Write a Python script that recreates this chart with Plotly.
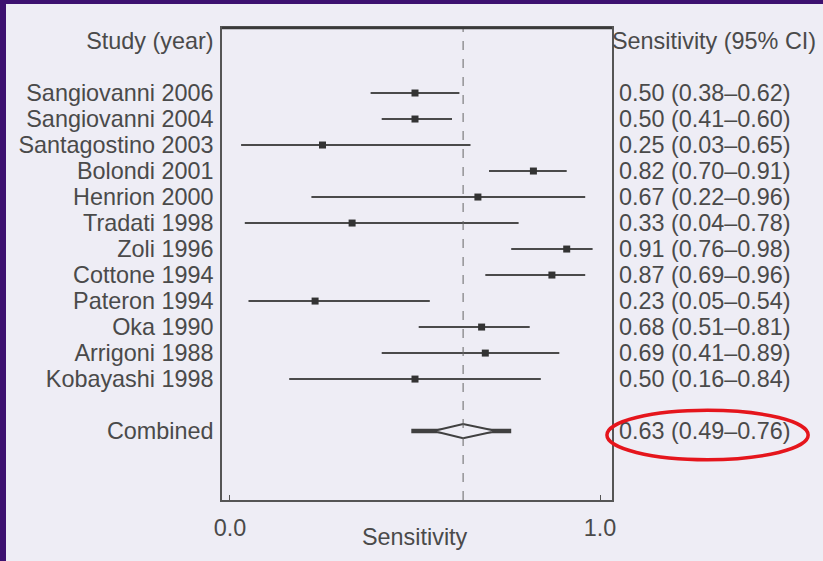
import plotly.graph_objects as go

# ---- data ----
studies = ["Sangiovanni 2006", "Sangiovanni 2004", "Santagostino 2003", "Bolondi 2001",
           "Henrion 2000", "Tradati 1998", "Zoli 1996", "Cottone 1994", "Pateron 1994",
           "Oka 1990", "Arrigoni 1988", "Kobayashi 1998"]
sens = [0.50, 0.50, 0.25, 0.82, 0.67, 0.33, 0.91, 0.87, 0.23, 0.68, 0.69, 0.50]
lo = [0.38, 0.41, 0.03, 0.70, 0.22, 0.04, 0.76, 0.69, 0.05, 0.51, 0.41, 0.16]
hi = [0.62, 0.60, 0.65, 0.91, 0.96, 0.78, 0.98, 0.96, 0.54, 0.81, 0.89, 0.84]
combined_label = "Combined"
combined_est = 0.63
combined_lo = 0.49
combined_hi = 0.76
combined_diamond = [0.55, 0.72]   # hollow diamond extent as drawn
x_ticks = [0.0, 1.0]
x_ticktext = ["0.0", "1.0"]

FONT = "Liberation Sans, Arial, Helvetica, sans-serif"
TXT = "#4a4a4a"
FS = 23.4
INK = "#333333"

rows = list(range(len(studies)))
comb_row = len(studies) + 1

fmt = lambda e, l, h: f"{e:.2f} ({l:.2f}\u2013{h:.2f})"
right_text = [fmt(e, l, h) for e, l, h in zip(sens, lo, hi)]
comb_text = fmt(combined_est, combined_lo, combined_hi)

fig = go.Figure()

# study CIs and point estimates
fig.add_trace(go.Scatter(
    x=sens, y=rows, mode="markers",
    marker=dict(symbol="square", size=7, color=INK),
    error_x=dict(type="data", symmetric=False,
                 array=[h - e for h, e in zip(hi, sens)],
                 arrayminus=[e - l for e, l in zip(sens, lo)],
                 thickness=2, width=0, color="#4a4a4a"),
    showlegend=False, hoverinfo="skip"))

# combined CI thick line
fig.add_trace(go.Scatter(
    x=[combined_lo, combined_hi], y=[comb_row, comb_row], mode="lines",
    line=dict(color="#404040", width=4.5), showlegend=False, hoverinfo="skip"))

# combined hollow diamond
dh = 0.27
fig.add_trace(go.Scatter(
    x=[combined_diamond[0], combined_est, combined_diamond[1], combined_est, combined_diamond[0]],
    y=[comb_row, comb_row - dh, comb_row, comb_row + dh, comb_row],
    mode="lines", fill="toself", fillcolor="#eeedf5",
    line=dict(color="#404040", width=2), showlegend=False, hoverinfo="skip"))

# invisible trace to activate right axis
fig.add_trace(go.Scatter(
    x=sens, y=rows, yaxis="y2", mode="markers", marker=dict(opacity=0),
    showlegend=False, hoverinfo="skip"))

yrange = [15.65, -2.5]

left_vals = [-2] + rows + [comb_row]
left_text = ["Study (year)"] + studies + [combined_label]
right_vals = rows + [comb_row]
right_txt = right_text + [comb_text]

fig.update_layout(
    width=823, height=561,
    margin=dict(l=222, r=211, t=28, b=61),
    paper_bgcolor="#eeedf5", plot_bgcolor="#eeedf5",
    font=dict(family=FONT, size=FS, color=TXT),
    xaxis=dict(range=[-0.0216, 1.0324], tickvals=x_ticks, ticktext=x_ticktext,
               ticks="inside", ticklen=5, tickcolor="#555555",
               showgrid=False, zeroline=False, showline=True, mirror=True,
               linecolor="#555555", linewidth=1.5, ticklabelstandoff=6,
               tickfont=dict(size=FS, color=TXT)),
    yaxis=dict(range=yrange, tickvals=left_vals, ticktext=left_text,
               ticks="", showgrid=False, zeroline=False, showline=True, mirror=True,
               linecolor="#555555", linewidth=1.5, ticklabelstandoff=2,
               tickfont=dict(size=FS, color=TXT)),
    yaxis2=dict(range=yrange, overlaying="y", side="right", tickvals=right_vals,
                ticktext=right_txt, ticks="", showgrid=False, zeroline=False,
                showline=False, ticklabelstandoff=6,
                tickfont=dict(size=FS, color=TXT)),
)

# dashed reference line at combined estimate
fig.add_shape(type="line", x0=combined_est, x1=combined_est, xref="x",
              y0=0, y1=1, yref="paper", line=dict(color="#666666", width=1, dash="dash"))

# heavier top frame
fig.add_shape(type="line", x0=0, x1=1, xref="paper", y0=1, y1=1, yref="paper",
              line=dict(color="#3a3a3a", width=2.5))

# right header
fig.add_annotation(text="Sensitivity (95% CI)", xref="paper", yref="y",
                   x=0.995, y=-2, xanchor="left", yanchor="middle", showarrow=False,
                   font=dict(size=FS, color=TXT))

# x axis title
fig.add_annotation(text="Sensitivity", xref="paper", yref="paper",
                   x=0.495, y=-0.078, xanchor="center", yanchor="middle", showarrow=False,
                   font=dict(size=FS, color=TXT))

# red ellipse highlight around combined result
fig.add_shape(type="circle", xref="paper", yref="y",
              x0=0.987, x1=1.503, y0=12.2, y1=14.1,
              line=dict(color="#e5151c", width=3.5))

# purple slide border
PURPLE = "#3d1170"
fig.add_shape(type="rect", xref="paper", yref="paper",
              x0=-0.6, x1=(6 - 222) / 390, y0=-0.2, y1=1.1,
              fillcolor=PURPLE, line=dict(width=0))
fig.add_shape(type="rect", xref="paper", yref="paper",
              x0=-0.6, x1=1.6, y0=(500 - 4) / 472, y1=1.1,
              fillcolor=PURPLE, line=dict(width=0))

fig.write_html("out.html", config={"displayModeBar": False},
               post_script="document.body.style.margin='0';document.body.style.padding='0';")
